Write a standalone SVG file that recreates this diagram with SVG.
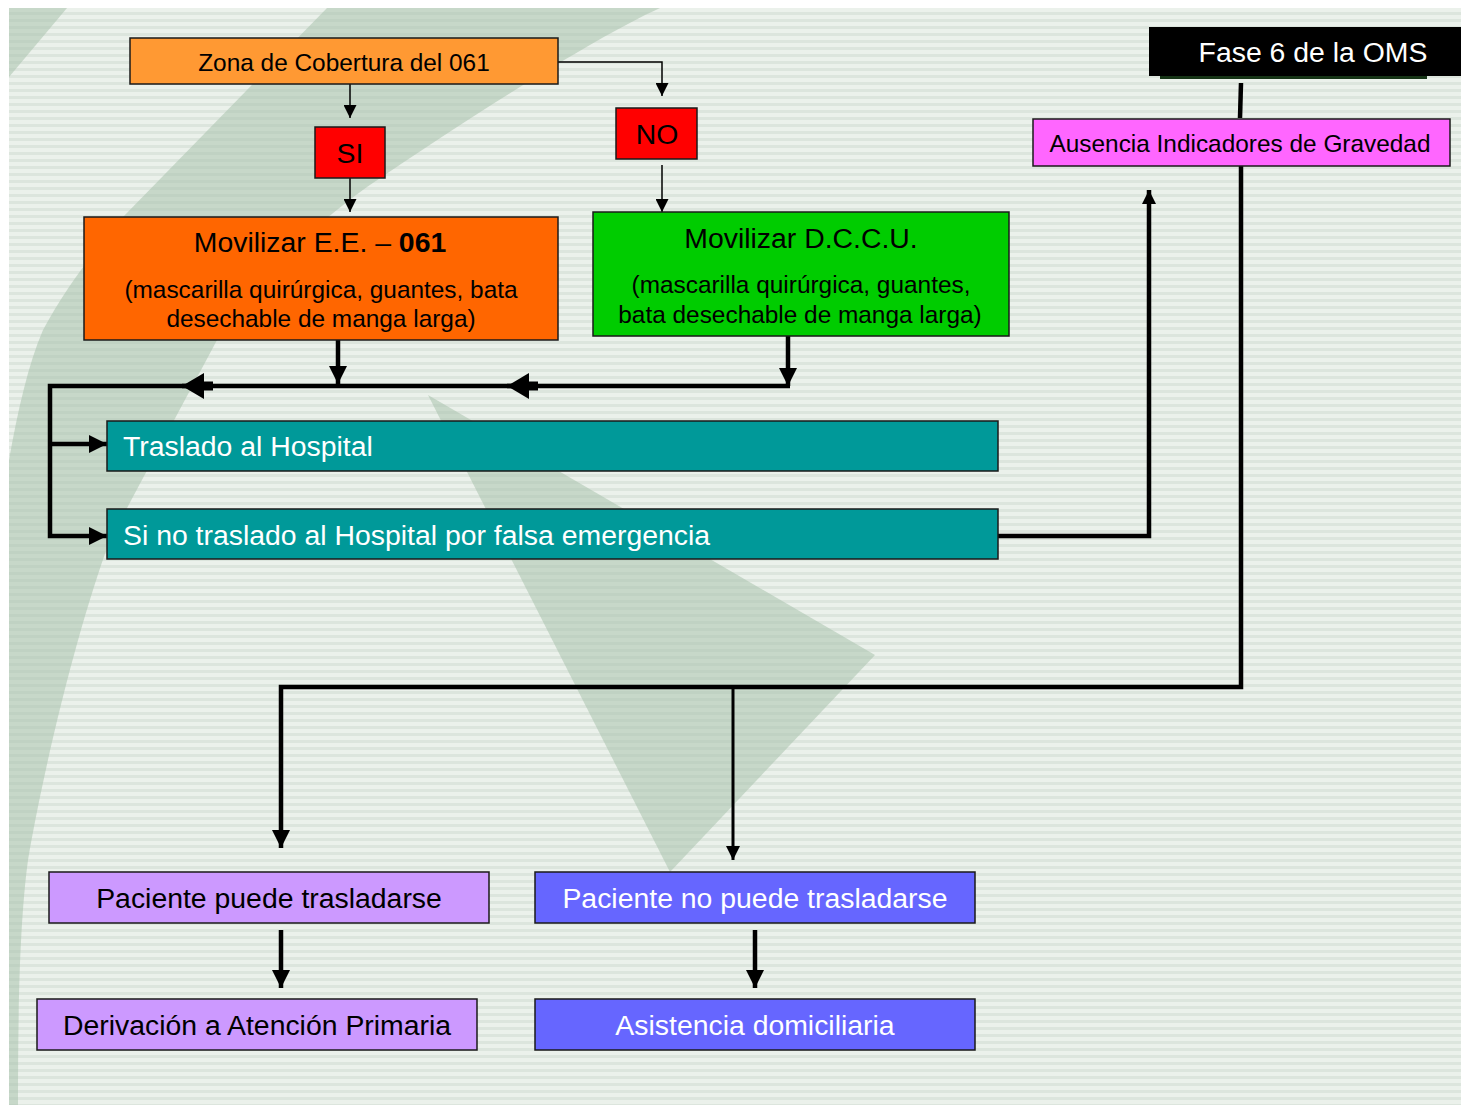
<svg xmlns="http://www.w3.org/2000/svg" width="1461" height="1105" viewBox="0 0 1461 1105">
<defs>
<pattern id="stripes" x="0" y="8" width="20" height="7" patternUnits="userSpaceOnUse">
<rect x="0" y="0" width="20" height="7" fill="#ebf1eb"/>
<rect x="0" y="4" width="20" height="3" fill="#dce5dd"/>
</pattern>
<marker id="thin" markerUnits="userSpaceOnUse" markerWidth="13" markerHeight="13" viewBox="0 0 13 13" refX="13" refY="6.5" orient="auto">
<path d="M0,0 L13,6.5 L0,13 Z" fill="#000"/>
</marker>
<marker id="mid" markerUnits="userSpaceOnUse" markerWidth="14" markerHeight="14" viewBox="0 0 14 14" refX="14" refY="7" orient="auto">
<path d="M0,0 L14,7 L0,14 Z" fill="#000"/>
</marker>
<marker id="thick" markerUnits="userSpaceOnUse" markerWidth="18" markerHeight="18" viewBox="0 0 18 18" refX="18" refY="9" orient="auto">
<path d="M0,0 L18,9 L0,18 Z" fill="#000"/>
</marker>
<marker id="big" markerUnits="userSpaceOnUse" markerWidth="31" markerHeight="26" viewBox="-9 0 31 26" refX="22" refY="13" orient="auto" overflow="visible">
<rect x="-9" y="8.5" width="10" height="9" fill="#000"/>
<path d="M0,0 L22,13 L0,26 Z" fill="#000"/>
</marker>
</defs>
<style>
.box{stroke:#1a1a1a;stroke-width:1.5}
.t{font-family:"Liberation Sans",Arial,sans-serif;fill:#000}
.w{fill:#fff}
.c{text-anchor:middle}
.s24{font-size:24.4px}
.s28{font-size:28.4px}
.ln{fill:none;stroke:#000;stroke-linejoin:miter}
.l1{stroke-width:1.5}
.l3{stroke-width:3}
.l4{stroke-width:4.5}
.bg{fill:#a9c3ad;opacity:0.55}
</style>

<g id="background">
<rect x="0" y="0" width="1461" height="1105" fill="#ffffff"/>
<rect x="9" y="8" width="1452" height="1097" fill="url(#stripes)"/>
<polygon class="bg" points="9,8 67,8 9,77"/>
<path class="bg" d="M327,8 L660,8 C600,35 480,110 367,187 C300,235 250,290 217,340 C185,400 150,465 110,540 C80,620 45,760 28,860 C20,920 18,1000 18,1105 L9,1105 L9,460 C18,410 28,365 43,330 C70,280 100,245 123,217 Z"/>
<polygon class="bg" points="428,395 875,655 670,872"/>
</g>

<g id="connectors">
<path class="ln l1" d="M350,84 L350,118" marker-end="url(#thin)"/>
<path class="ln l1" d="M350,178 L350,212" marker-end="url(#thin)"/>
<path class="ln l1" d="M558,62 L662,62 L662,96" marker-end="url(#thin)"/>
<path class="ln l1" d="M662,165 L662,212" marker-end="url(#thin)"/>
<path class="ln l4" d="M338,340 L338,384" marker-end="url(#thick)"/>
<path class="ln l4" d="M788,336 L788,386" marker-end="url(#thick)"/>
<path class="ln l4" d="M790,386 L507,386" marker-end="url(#big)"/>
<path class="ln l4" d="M528,386 L182,386" marker-end="url(#big)"/>
<path class="ln l4" d="M205,386 L50,386 L50,536 L107,536" marker-end="url(#thick)"/>
<path class="ln l4" d="M50,444 L107,444" marker-end="url(#thick)"/>
<path class="ln l4" d="M998,536 L1149,536 L1149,190" marker-end="url(#mid)"/>
<path class="ln l4" d="M1241,83 L1240,118"/>
<path class="ln l4" d="M1241,166 L1241,687 L281,687 L281,848" marker-end="url(#thick)"/>
<path class="ln l3" d="M733,687 L733,860" marker-end="url(#mid)"/>
<path class="ln l4" d="M281,930 L281,988" marker-end="url(#thick)"/>
<path class="ln l4" d="M755,930 L755,988" marker-end="url(#thick)"/>
</g>

<g id="zona">
<rect class="box" x="130" y="38" width="428" height="46" fill="#ff9933"/>
<text class="t s24 c" x="344" y="71">Zona de Cobertura del 061</text>
</g>
<g id="si">
<rect class="box" x="315" y="127" width="70" height="51" fill="#ff0000"/>
<text class="t s28 c" x="350" y="163">SI</text>
</g>
<g id="no">
<rect class="box" x="616" y="108" width="81" height="51" fill="#ff0000"/>
<text class="t s28 c" x="657" y="144">NO</text>
</g>
<g id="movilizar-ee">
<rect class="box" x="84" y="217" width="474" height="123" fill="#ff6600"/>
<text class="t s28 c" x="320" y="252">Movilizar E.E. – <tspan font-weight="bold">061</tspan></text>
<text class="t s24 c" x="321" y="298">(mascarilla quirúrgica, guantes, bata</text>
<text class="t s24 c" x="321" y="327">desechable de manga larga)</text>
</g>
<g id="movilizar-dccu">
<rect class="box" x="593" y="212" width="416" height="124" fill="#00cc00"/>
<text class="t s28 c" x="801" y="248">Movilizar D.C.C.U.</text>
<text class="t s24 c" x="801" y="293">(mascarilla quirúrgica, guantes,</text>
<text class="t s24 c" x="800" y="323">bata desechable de manga larga)</text>
</g>
<g id="fase6">
<rect x="1160" y="74" width="267" height="5" fill="#163416"/>
<rect x="1149" y="27" width="312" height="49" fill="#000000"/>
<text class="t w s28 c" x="1313" y="62">Fase 6 de la OMS</text>
</g>
<g id="ausencia">
<rect class="box" x="1033" y="119" width="417" height="47" fill="#ff66ff"/>
<text class="t s24 c" x="1240" y="152">Ausencia Indicadores de Gravedad</text>
</g>
<g id="traslado">
<rect class="box" x="107" y="421" width="891" height="50" fill="#009999"/>
<text class="t w s28" x="123" y="456">Traslado al Hospital</text>
</g>
<g id="no-traslado">
<rect class="box" x="107" y="509" width="891" height="50" fill="#009999"/>
<text class="t w s28" x="123" y="545">Si no traslado al Hospital por falsa emergencia</text>
</g>
<g id="puede">
<rect class="box" x="49" y="872" width="440" height="51" fill="#cc99ff"/>
<text class="t s28 c" x="269" y="908">Paciente puede trasladarse</text>
</g>
<g id="no-puede">
<rect class="box" x="535" y="872" width="440" height="51" fill="#6666ff"/>
<text class="t w s28 c" x="755" y="908">Paciente no puede trasladarse</text>
</g>
<g id="derivacion">
<rect class="box" x="37" y="999" width="440" height="51" fill="#cc99ff"/>
<text class="t s28 c" x="257" y="1035">Derivación a Atención Primaria</text>
</g>
<g id="asistencia">
<rect class="box" x="535" y="999" width="440" height="51" fill="#6666ff"/>
<text class="t w s28 c" x="755" y="1035">Asistencia domiciliaria</text>
</g>
</svg>
